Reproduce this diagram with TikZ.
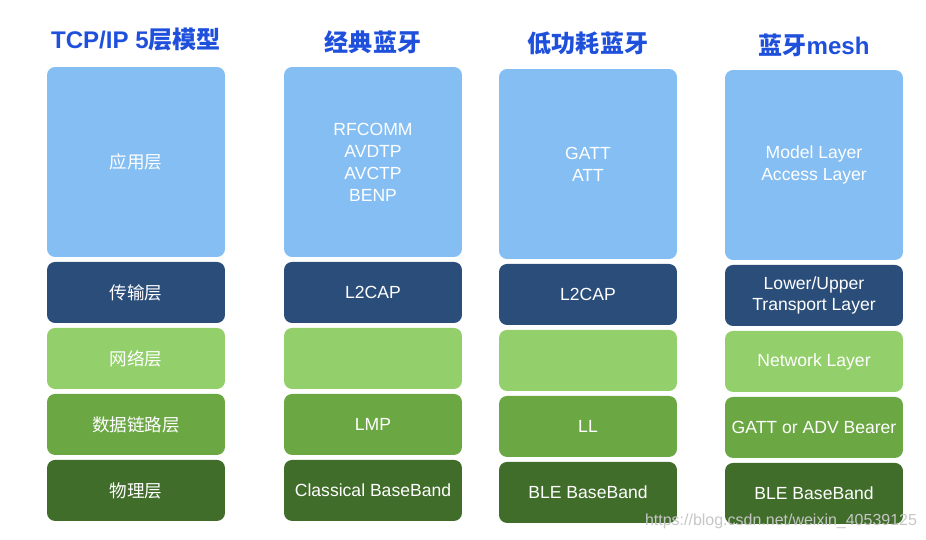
\documentclass[tikz,border=0pt]{standalone}
\usepackage{fontspec}
\setmainfont{Liberation Sans}
\newfontfamily\cjk{Noto Sans CJK SC}
\usetikzlibrary{positioning}

\definecolor{appblue}{HTML}{85BEF2}
\definecolor{transblue}{HTML}{2B4D7A}
\definecolor{netgreen}{HTML}{93D06B}
\definecolor{linkgreen}{HTML}{6BA844}
\definecolor{phygreen}{HTML}{416D2B}
\definecolor{titleblue}{HTML}{1F50DC}

\begin{document}
\begin{tikzpicture}[x=0.02cm, y=-0.02cm, node distance=0.1cm,
    every node/.style={inner sep=0pt, outer sep=0pt, align=center, font=\fontsize{10}{12.5}\selectfont},
    stackbox/.style={rounded corners=0.16cm, minimum width=3.56cm, minimum height=1.22cm, text=white},
    appbox/.style={stackbox, fill=appblue, minimum height=3.8cm},
    transbox/.style={stackbox, fill=transblue},
    netbox/.style={stackbox, fill=netgreen},
    linkbox/.style={stackbox, fill=linkgreen},
    phybox/.style={stackbox, fill=phygreen},
    coltitle/.style={text=titleblue, font=\fontsize{13.7}{16}\selectfont\bfseries}]
  \useasboundingbox (0,0) rectangle (926,540);

  % TCP/IP
  \node[coltitle] (title1) at (136,40) {TCP/IP 5{\cjk\bfseries 层模型}};
  \node[appbox] (app1) at (136,162) {\cjk 应用层};
  \node[transbox, below=of app1] (trans1) {\cjk 传输层};
  \node[netbox, below=of trans1] (net1) {\cjk 网络层};
  \node[linkbox, below=of net1] (link1) {\cjk 数据链路层};
  \node[phybox, below=of link1] (phy1) {\cjk 物理层};

  % classic bluetooth
  \node[coltitle] (title2) at (373,42) {\cjk\bfseries 经典蓝牙};
  \node[appbox] (app2) at (373,162) {RFCOMM\\AVDTP\\AVCTP\\BENP};
  \node[transbox, below=of app2] (trans2) {L2CAP};
  \node[netbox, below=of trans2] (net2) {};
  \node[linkbox, below=of net2] (link2) {LMP};
  \node[phybox, below=of link2] (phy2) {Classical BaseBand};

  % BLE
  \node[coltitle] (title3) at (588,43) {\cjk\bfseries 低功耗蓝牙};
  \node[appbox] (app3) at (588,164) {GATT\\ATT};
  \node[transbox, below=of app3] (trans3) {L2CAP};
  \node[netbox, below=of trans3] (net3) {};
  \node[linkbox, below=of net3] (link3) {LL};
  \node[phybox, below=of link3] (phy3) {BLE BaseBand};

  % mesh
  \node[coltitle] (title4) at (814,45) {{\cjk\bfseries 蓝牙}mesh};
  \node[appbox] (app4) at (814,165) {Model Layer\\Access Layer};
  \node[transbox, below=of app4] (trans4) {Lower/Upper\\Transport Layer};
  \node[netbox, below=of trans4] (net4) {Network Layer};
  \node[linkbox, below=of net4] (link4) {GATT or ADV Bearer};
  \node[phybox, below=of link4] (phy4) {BLE BaseBand};

  \node[anchor=east, text=gray!45, font=\fontsize{9.1}{11}\selectfont] (mark) at (917,521) {https://blog.csdn.net/weixin\_40539125};
\end{tikzpicture}
\end{document}
